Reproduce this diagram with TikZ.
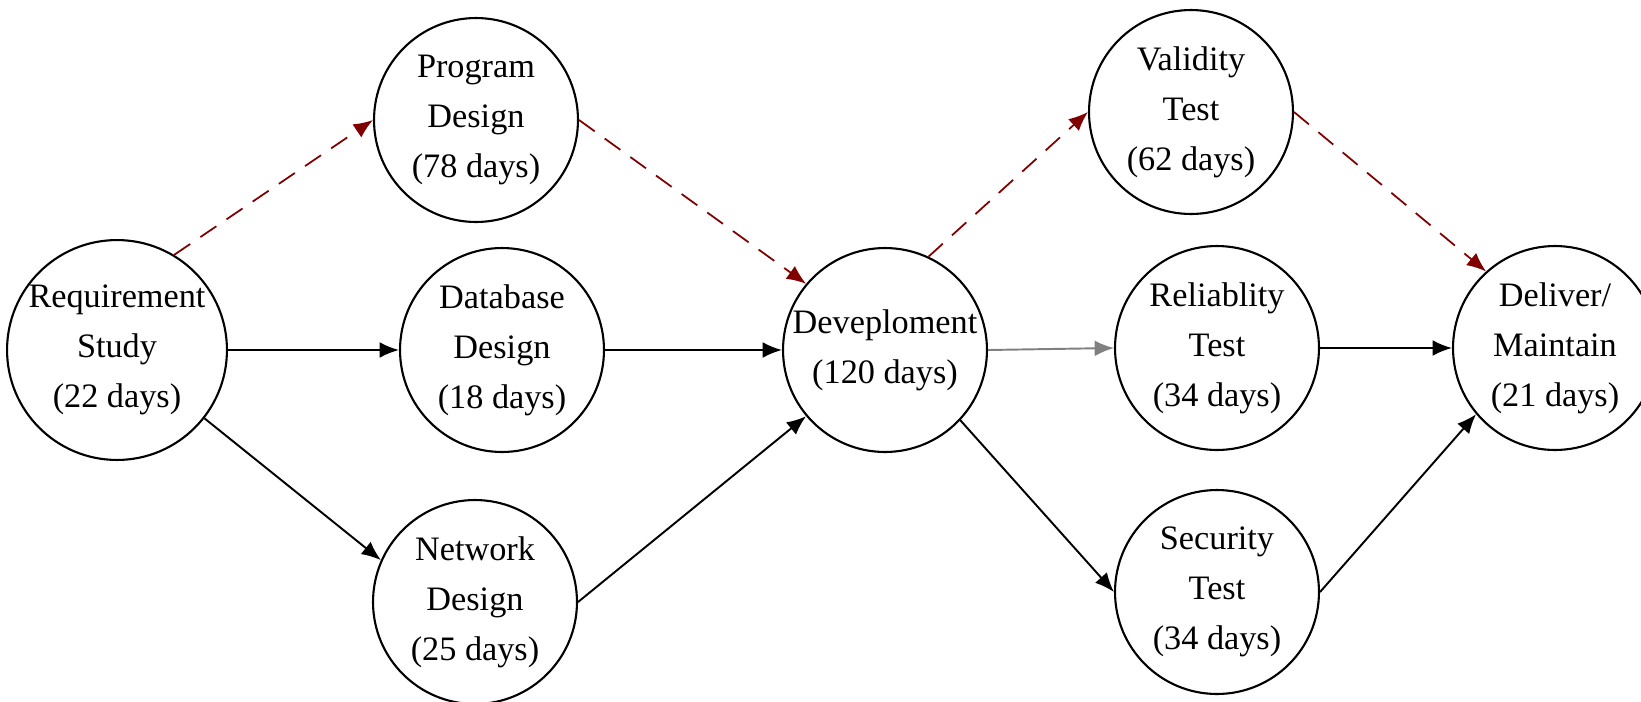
\documentclass[tikz,border=0pt]{standalone}
\usepackage{fontspec}
\setmainfont{Liberation Serif}
\usetikzlibrary{arrows.meta}
\definecolor{critred}{RGB}{128,0,0}
\begin{document}
\begin{tikzpicture}[x=0.02cm, y=-0.02cm, line join=round, >={Latex[length=11pt,width=9pt]},
	task/.style={draw, circle, line width=1.2pt, minimum size=4.08cm, inner sep=0pt, align=center, font=\fontsize{19.5}{28.5}\selectfont},
	link/.style={->, line width=1.1pt},
	crit/.style={->, line width=1pt, critred, dash pattern=on 11pt off 7pt}]
	\useasboundingbox (0,0) rectangle (1641,701);
	\node[task] (req) at (117,350) {Requirement\\Study\\(22 days)};
	\node[task] (prog) at (476,120) {Program\\Design\\(78 days)};
	\node[task] (db) at (502,350) {Database\\Design\\(18 days)};
	\node[task] (net) at (475,602) {Network\\Design\\(25 days)};
	\node[task] (dev) at (885,350) {Deveploment\\(120 days)};
	\node[task] (val) at (1191,112) {Validity\\Test\\(62 days)};
	\node[task] (rel) at (1217,348) {Reliablity\\Test\\(34 days)};
	\node[task] (sec) at (1217,592) {Security\\Test\\(34 days)};
	\node[task] (del) at (1555,348) {Deliver/\\Maintain\\(21 days)};
	\draw[crit] (req.59) -- (prog.west);
	\draw[crit] (prog.east) -- (dev.140);
	\draw[crit] (dev.65) -- (val.west);
	\draw[crit] (val.east) -- (del.132);
	\draw[link] (req.east) -- (db.west);
	\draw[link] (req.-38) -- (net.156);
	\draw[link] (db.east) -- (dev.west);
	\draw[link] (net.east) -- (dev.220);
	\draw[link, gray] (dev.east) -- (rel.west);
	\draw[link] (dev.-43) -- (sec.west);
	\draw[link] (rel.east) -- (del.west);
	\draw[link] (sec.east) -- (del.220);
\end{tikzpicture}
\end{document}
